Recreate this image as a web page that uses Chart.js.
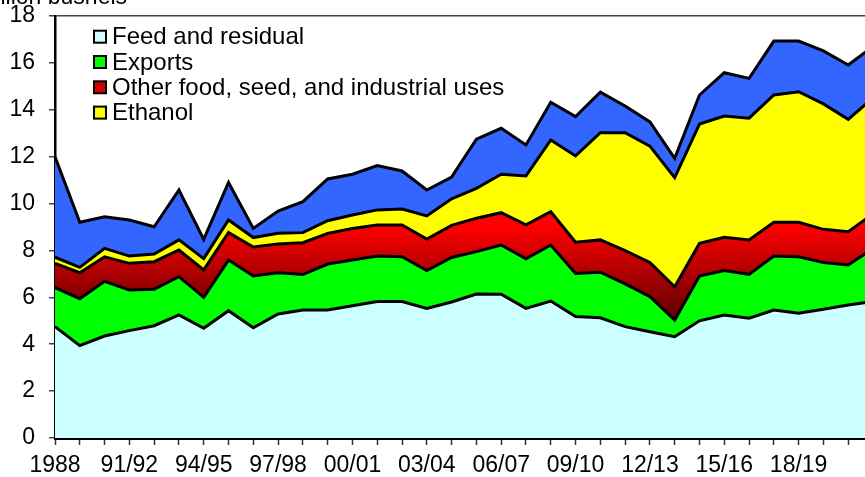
<!DOCTYPE html>
<html>
<head>
<meta charset="utf-8">
<script src="https://cdn.jsdelivr.net/npm/chart.js@4.4.1/dist/chart.umd.min.js"></script>
<style>
  html, body { margin: 0; padding: 0; background: #fff; overflow: hidden; width: 865px; height: 477px; }
  #wrap { position: absolute; left: -20px; top: -24px; width: 900px; height: 500px; }
</style>
</head>
<body>
<div id="wrap"><canvas id="cornChart" width="900" height="500"></canvas></div>
<script>
// marketing years (only every third one is labelled)
const years = ['1988', '89/90', '90/91', '91/92', '92/93', '93/94', '94/95', '95/96', '96/97', '97/98',
  '98/99', '99/00', '00/01', '01/02', '02/03', '03/04', '04/05', '05/06', '06/07', '07/08',
  '08/09', '09/10', '10/11', '11/12', '12/13', '13/14', '14/15', '15/16', '16/17', '17/18',
  '18/19', '19/20', '20/21', '21/22'];

// billion bushels
const feedResidual = [4.75, 3.94, 4.35, 4.58, 4.79, 5.25, 4.68, 5.43, 4.70, 5.29,
  5.46, 5.46, 5.64, 5.82, 5.82, 5.53, 5.80, 6.14, 6.13, 5.53,
  5.84, 5.18, 5.13, 4.75, 4.53, 4.32, 5.00, 5.25, 5.11, 5.46,
  5.32, 5.49, 5.67, 5.82];
const exportsUse = [1.66, 2.00, 2.33, 1.73, 1.55, 1.63, 1.32, 2.16, 2.21, 1.76,
  1.51, 1.96, 1.95, 1.94, 1.91, 1.61, 1.90, 1.81, 2.10, 2.11,
  2.39, 1.84, 1.94, 1.82, 1.50, 0.71, 1.91, 1.89, 1.87, 2.30,
  2.41, 2.00, 1.71, 2.26];
const otherFsi = [1.04, 1.11, 1.05, 1.14, 1.18, 1.14, 1.17, 1.17, 1.24, 1.23,
  1.36, 1.31, 1.35, 1.33, 1.36, 1.35, 1.37, 1.42, 1.38, 1.45,
  1.42, 1.33, 1.38, 1.42, 1.46, 1.42, 1.39, 1.42, 1.47, 1.44,
  1.47, 1.41, 1.42, 1.48];
const ethanol = [0.26, 0.23, 0.36, 0.31, 0.33, 0.43, 0.48, 0.54, 0.40, 0.45,
  0.43, 0.54, 0.57, 0.64, 0.68, 0.98, 1.13, 1.28, 1.64, 2.09,
  3.06, 3.68, 4.57, 5.03, 4.96, 4.65, 5.09, 5.17, 5.19, 5.43,
  5.57, 5.35, 4.79, 4.95];
const endingStocks = [4.29, 1.92, 1.35, 1.54, 1.16, 2.13, 0.82, 1.60, 0.39, 0.95,
  1.32, 1.78, 1.74, 1.89, 1.62, 1.11, 0.93, 2.10, 1.96, 1.32,
  1.61, 1.68, 1.73, 1.14, 1.03, 0.83, 1.24, 1.85, 1.70, 2.30,
  2.16, 2.26, 2.32, 2.19];

const FONT = 'Liberation Sans, Arial, sans-serif';

// red band darkens toward the bottom
const redFill = (context) => {
  const chart = context.chart;
  if (!chart.chartArea) return '#ff0000';
  const y = chart.scales.y;
  const g = chart.ctx.createLinearGradient(0, y.getPixelForValue(9.0), 0, y.getPixelForValue(5.0));
  g.addColorStop(0, '#ff0000');
  g.addColorStop(1, '#5a0000');
  return g;
};

// title text above the axis, partly outside the visible window
const titlePlugin = {
  id: 'unitTitle',
  afterDraw(chart) {
    const c = chart.ctx;
    c.save();
    c.font = '23px ' + FONT;
    c.fillStyle = '#000';
    c.textBaseline = 'alphabetic';
    c.fillText('Billion bushels', 0, 28);
    c.restore();
  }
};

// legend drawn as a column inside the plot
const boxLegend = {
  id: 'boxLegend',
  afterDraw(chart) {
    const c = chart.ctx;
    const area = chart.chartArea;
    const items = chart.data.datasets.filter(d => d.inLegend);
    c.save();
    c.font = '24px ' + FONT;
    c.textBaseline = 'middle';
    items.forEach((ds, i) => {
      const cy = area.top + 20.7 + i * 25.3;
      const bx = area.left + 39;
      c.fillStyle = ds.legendColor;
      c.fillRect(bx, cy - 6, 12, 12);
      c.lineWidth = 2;
      c.strokeStyle = '#000';
      c.strokeRect(bx, cy - 6, 12, 12);
      c.fillStyle = '#000';
      c.fillText(ds.label, area.left + 57, cy + 1);
    });
    c.restore();
  }
};

const layer = (label, data, bg, fill, legendColor, inLegend) => ({
  label: label,
  data: data,
  backgroundColor: bg,
  borderColor: '#000',
  borderWidth: 3,
  pointRadius: 0,
  tension: 0,
  fill: fill,
  legendColor: legendColor,
  inLegend: inLegend
});

const cornChart = new Chart(document.getElementById('cornChart').getContext('2d'), {
  type: 'line',
  data: {
    labels: years,
    datasets: [
      layer('Feed and residual', feedResidual, '#ccffff', 'origin', '#ccffff', true),
      layer('Exports', exportsUse, '#00ff00', '-1', '#00ff00', true),
      layer('Other food, seed, and industrial uses', otherFsi, redFill, '-1', '#d00000', true),
      layer('Ethanol', ethanol, '#ffff00', '-1', '#ffff00', true),
      layer('Ending stocks', endingStocks, '#3366ff', '-1', '#3366ff', false)
    ]
  },
  options: {
    responsive: false,
    animation: false,
    devicePixelRatio: 1,
    layout: { padding: { left: 0, top: 40, right: 6.6, bottom: 0 } },
    plugins: {
      legend: { display: false },
      tooltip: { enabled: false },
      title: { display: false }
    },
    scales: {
      x: {
        offset: false,
        grid: { drawOnChartArea: false, tickLength: 7, tickColor: '#333', tickWidth: 1.5 },
        border: { display: true, color: '#000', width: 3 },
        ticks: {
          autoSkip: false,
          maxRotation: 0,
          padding: 7,
          color: '#000',
          font: { family: FONT, size: 23 },
          callback: (v, i) => (i % 3 === 0 && i < years.length - 1 ? years[i] : '')
        },
        afterFit: (scale) => { scale.height = 38; }
      },
      y: {
        stacked: true,
        min: 0,
        max: 18,
        grid: {
          color: (ctx) => (ctx.tick && ctx.tick.value === 18 ? '#444' : 'rgba(0,0,0,0)'),
          lineWidth: 1.5,
          tickLength: 6,
          tickColor: '#444',
          tickWidth: 1.5
        },
        border: { display: true, color: '#000', width: 2.5 },
        ticks: {
          stepSize: 2,
          padding: 14,
          color: '#000',
          font: { family: FONT, size: 23 }
        },
        afterFit: (scale) => { scale.width = 75; }
      }
    }
  },
  plugins: [titlePlugin, boxLegend]
});
</script>
</body>
</html>
